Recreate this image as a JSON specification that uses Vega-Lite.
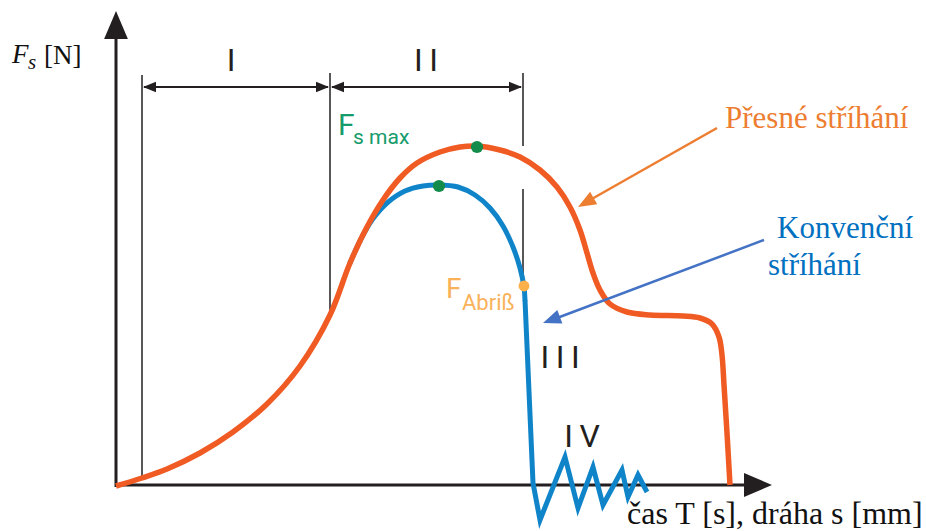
{
  "$schema": "https://vega.github.io/schema/vega-lite/v6.json",
  "width": 926,
  "height": 531,
  "autosize": {"type": "none"},
  "padding": 0,
  "background": "white",
  "config": {"view": {"stroke": null}},
  "datasets": {
    "precise": [
      {"s": 0, "F": 0}, {"s": 26, "F": 8}, {"s": 51, "F": 17}, {"s": 84, "F": 33},
      {"s": 117, "F": 54}, {"s": 151, "F": 82}, {"s": 184, "F": 120}, {"s": 214, "F": 171},
      {"s": 234, "F": 223}, {"s": 251, "F": 259}, {"s": 267, "F": 286}, {"s": 284, "F": 308},
      {"s": 301, "F": 323}, {"s": 324, "F": 334}, {"s": 344, "F": 339}, {"s": 361, "F": 340},
      {"s": 384, "F": 336}, {"s": 404, "F": 329}, {"s": 424, "F": 316}, {"s": 441, "F": 299},
      {"s": 454, "F": 279}, {"s": 464, "F": 256}, {"s": 471, "F": 233}, {"s": 477, "F": 213},
      {"s": 484, "F": 196}, {"s": 494, "F": 182}, {"s": 511, "F": 174}, {"s": 534, "F": 171},
      {"s": 567, "F": 170}, {"s": 584, "F": 168}, {"s": 596, "F": 162}, {"s": 603, "F": 149},
      {"s": 606, "F": 131}, {"s": 608, "F": 101}, {"s": 611, "F": 53}, {"s": 614, "F": 1}
    ],
    "conventional": [
      {"s": 234, "F": 223}, {"s": 244, "F": 245}, {"s": 256, "F": 266}, {"s": 271, "F": 283},
      {"s": 289, "F": 295}, {"s": 307, "F": 300}, {"s": 323, "F": 301}, {"s": 342, "F": 299},
      {"s": 359, "F": 291}, {"s": 374, "F": 278}, {"s": 387, "F": 260}, {"s": 397, "F": 239},
      {"s": 404, "F": 218}, {"s": 408, "F": 199}, {"s": 409, "F": 186}
    ],
    "conventional_break": [
      {"s": 409, "F": 186}, {"s": 417, "F": 3}, {"s": 424, "F": -34}, {"s": 449, "F": 29},
      {"s": 462, "F": -22}, {"s": 477, "F": 19}, {"s": 487, "F": -19}, {"s": 506, "F": 16},
      {"s": 512, "F": -11}, {"s": 522, "F": 11}, {"s": 531, "F": -6}
    ]
  },
  "encoding": {
    "x": {"field": "s", "type": "quantitative", "axis": null,
          "scale": {"domain": [-116, 810], "nice": false, "zero": false}},
    "y": {"field": "F", "type": "quantitative", "axis": null,
          "scale": {"domain": [-45, 486], "nice": false, "zero": false}}
  },
  "layer": [
    {
      "data": {"values": [{"s": 0, "F": -1, "F2": 456}]},
      "mark": {"type": "rule", "color": "#231f20", "strokeWidth": 3},
      "encoding": {"y2": {"field": "F2"}}
    },
    {
      "data": {"values": [{"s": -1, "s2": 640, "F": 1}]},
      "mark": {"type": "rule", "color": "#231f20", "strokeWidth": 3},
      "encoding": {"x2": {"field": "s2"}}
    },
    {
      "data": {"values": [{"s": 0, "F": 475}]},
      "mark": {"type": "point", "shape": "M0,0L0.85,2L-0.85,2Z", "size": 784,
               "filled": true, "color": "#231f20", "opacity": 1, "angle": 0}
    },
    {
      "data": {"values": [{"s": 656, "F": 1}]},
      "mark": {"type": "point", "shape": "M0,0L0.85,2L-0.85,2Z", "size": 784,
               "filled": true, "color": "#231f20", "opacity": 1, "angle": 90}
    },
    {
      "data": {"values": [
        {"s": 26, "F": 9, "F2": 411},
        {"s": 214, "F": 171, "F2": 413},
        {"s": 407, "F": 340, "F2": 413},
        {"s": 407, "F": 201, "F2": 297}
      ]},
      "mark": {"type": "rule", "color": "#231f20", "strokeWidth": 1.5},
      "encoding": {"y2": {"field": "F2"}}
    },
    {
      "data": {"values": [
        {"s": 28, "s2": 212, "F": 399},
        {"s": 216, "s2": 405, "F": 399}
      ]},
      "mark": {"type": "rule", "color": "#231f20", "strokeWidth": 2},
      "encoding": {"x2": {"field": "s2"}}
    },
    {
      "data": {"values": [{"s": 27, "F": 399}, {"s": 215, "F": 399}]},
      "mark": {"type": "point", "shape": "M0,0L0.8,2L-0.8,2Z", "size": 169,
               "filled": true, "color": "#231f20", "opacity": 1, "angle": 270}
    },
    {
      "data": {"values": [{"s": 213, "F": 399}, {"s": 406, "F": 399}]},
      "mark": {"type": "point", "shape": "M0,0L0.8,2L-0.8,2Z", "size": 169,
               "filled": true, "color": "#231f20", "opacity": 1, "angle": 90}
    },
    {
      "data": {"name": "conventional"},
      "mark": {"type": "line", "color": "#0f84c8", "strokeWidth": 5,
               "interpolate": "catmull-rom", "strokeCap": "round", "strokeJoin": "round"},
      "encoding": {"order": {"value": null}}
    },
    {
      "data": {"name": "conventional_break"},
      "mark": {"type": "line", "color": "#0f84c8", "strokeWidth": 5,
               "strokeCap": "butt", "strokeJoin": "miter"},
      "encoding": {"order": {"value": null}}
    },
    {
      "data": {"name": "precise"},
      "mark": {"type": "line", "color": "#f05a23", "strokeWidth": 5.5,
               "interpolate": "catmull-rom", "strokeCap": "butt", "strokeJoin": "round"},
      "encoding": {"order": {"value": null}}
    },
    {
      "data": {"values": [{"s": 361, "F": 339}, {"s": 323, "F": 300}]},
      "mark": {"type": "circle", "color": "#138b4a", "opacity": 1, "size": 150}
    },
    {
      "data": {"values": [{"s": 408, "F": 200}]},
      "mark": {"type": "circle", "color": "#fbb04a", "opacity": 1, "size": 120}
    },
    {
      "data": {"values": [{"s": 601, "s2": 474, "F": 358, "F2": 286}]},
      "mark": {"type": "rule", "color": "#ed7d31", "strokeWidth": 2.5},
      "encoding": {"x2": {"field": "s2"}, "y2": {"field": "F2"}}
    },
    {
      "data": {"values": [{"s": 462, "F": 279}]},
      "mark": {"type": "point", "shape": "M0,0L0.8,2L-0.8,2Z", "size": 324,
               "filled": true, "color": "#ed7d31", "opacity": 1, "angle": 240.4}
    },
    {
      "data": {"values": [{"s": 648, "s2": 441, "F": 246, "F2": 168}]},
      "mark": {"type": "rule", "color": "#4472c4", "strokeWidth": 2.5},
      "encoding": {"x2": {"field": "s2"}, "y2": {"field": "F2"}}
    },
    {
      "data": {"values": [{"s": 427, "F": 163}]},
      "mark": {"type": "point", "shape": "M0,0L0.8,2L-0.8,2Z", "size": 324,
               "filled": true, "color": "#4472c4", "opacity": 1, "angle": 249.4}
    },
    {
      "data": {"values": [
        {"s": 115, "F": 415, "label": "I"},
        {"s": 310, "F": 415, "label": "I\u2009I"},
        {"s": 444, "F": 118, "label": "I\u2009I\u2009I"},
        {"s": 466, "F": 39, "label": "I\u2009V"}
      ]},
      "mark": {"type": "text", "font": "Roboto", "fontSize": 32,
               "color": "#231f20", "align": "center", "baseline": "alphabetic"},
      "encoding": {"text": {"field": "label"}}
    },
    {
      "data": {"values": [{"s": 222, "F": 351, "label": "F"}]},
      "mark": {"type": "text", "font": "Roboto", "fontSize": 30, "color": "#169b6b",
               "align": "left", "baseline": "alphabetic"},
      "encoding": {"text": {"field": "label"}}
    },
    {
      "data": {"values": [{"s": 237, "F": 342, "label": "s max"}]},
      "mark": {"type": "text", "font": "Roboto", "fontSize": 21, "color": "#169b6b",
               "align": "left", "baseline": "alphabetic"},
      "encoding": {"text": {"field": "label"}}
    },
    {
      "data": {"values": [{"s": 330, "F": 188, "label": "F"}]},
      "mark": {"type": "text", "font": "Roboto", "fontSize": 28, "color": "#f9b25a",
               "align": "left", "baseline": "alphabetic"},
      "encoding": {"text": {"field": "label"}}
    },
    {
      "data": {"values": [{"s": 346, "F": 176, "label": "Abriß"}]},
      "mark": {"type": "text", "font": "Roboto", "fontSize": 22, "color": "#f9b25a",
               "align": "left", "baseline": "alphabetic"},
      "encoding": {"text": {"field": "label"}}
    },
    {
      "data": {"values": [{"s": 609, "F": 358, "label": "Přesné stříhání"}]},
      "mark": {"type": "text", "font": "Liberation Serif", "fontSize": 31, "color": "#ed7d31",
               "align": "left", "baseline": "alphabetic"},
      "encoding": {"text": {"field": "label"}}
    },
    {
      "data": {"values": [
        {"s": 661, "F": 248, "label": "Konvenční"},
        {"s": 652, "F": 211, "label": "stříhání"}
      ]},
      "mark": {"type": "text", "font": "Liberation Serif", "fontSize": 31, "color": "#0070c0",
               "align": "left", "baseline": "alphabetic"},
      "encoding": {"text": {"field": "label"}}
    },
    {
      "data": {"values": [{"s": 511, "F": -38, "label": "čas T [s], dráha s [mm]"}]},
      "mark": {"type": "text", "font": "Liberation Serif", "fontSize": 32, "color": "#111111",
               "align": "left", "baseline": "alphabetic"},
      "encoding": {"text": {"field": "label"}}
    },
    {
      "data": {"values": [{"s": -104, "F": 423, "label": "F"}]},
      "mark": {"type": "text", "font": "Liberation Serif", "fontSize": 27, "fontStyle": "italic",
               "color": "#111111", "align": "left", "baseline": "alphabetic"},
      "encoding": {"text": {"field": "label"}}
    },
    {
      "data": {"values": [{"s": -88, "F": 417, "label": "s"}]},
      "mark": {"type": "text", "font": "Liberation Serif", "fontSize": 21, "fontStyle": "italic",
               "color": "#111111", "align": "left", "baseline": "alphabetic"},
      "encoding": {"text": {"field": "label"}}
    },
    {
      "data": {"values": [{"s": -72, "F": 422, "label": "[N]"}]},
      "mark": {"type": "text", "font": "Liberation Serif", "fontSize": 27,
               "color": "#111111", "align": "left", "baseline": "alphabetic"},
      "encoding": {"text": {"field": "label"}}
    }
  ]
}
